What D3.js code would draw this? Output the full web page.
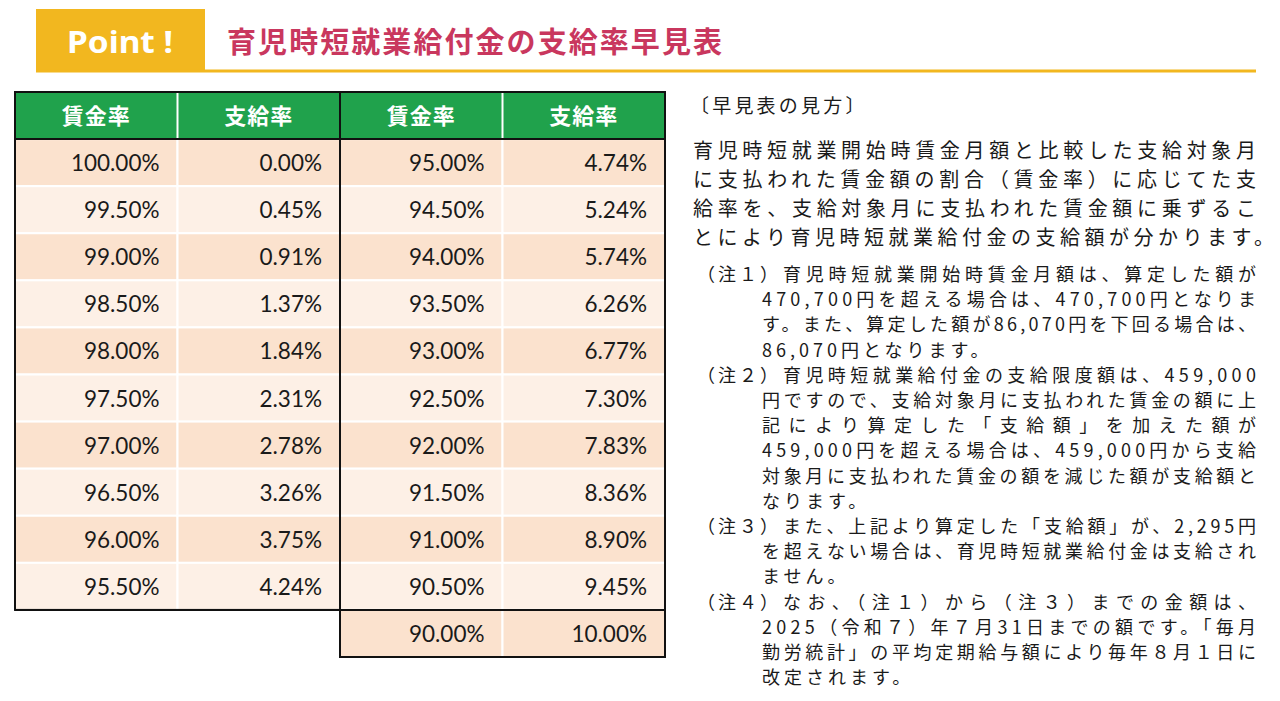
<!DOCTYPE html>
<html lang="ja">
<head>
<meta charset="utf-8">
<script src="https://cdn.jsdelivr.net/npm/d3@7/dist/d3.min.js"></script>
<style>
  html, body { margin: 0; padding: 0; background: #ffffff; }
  svg { display: block; }
</style>
</head>
<body>
<svg id="chart" width="1280" height="701"></svg>
<script>
// ---------- data ----------
const headerLabels = ["賃金率", "支給率", "賃金率", "支給率"];
const leftWageRates = [100.00, 99.50, 99.00, 98.50, 98.00, 97.50, 97.00, 96.50, 96.00, 95.50];
const leftPayRates  = [0.00, 0.45, 0.91, 1.37, 1.84, 2.31, 2.78, 3.26, 3.75, 4.24];
const rightWageRates = [95.00, 94.50, 94.00, 93.50, 93.00, 92.50, 92.00, 91.50, 91.00, 90.50, 90.00];
const rightPayRates  = [4.74, 5.24, 5.74, 6.26, 6.77, 7.30, 7.83, 8.36, 8.90, 9.45, 10.00];

const badgeText = "Point !";
const titleText = "育児時短就業給付金の支給率早見表";
const guideHeading = "〔早見表の見方〕";
const guideLines = [
  "育児時短就業開始時賃金月額と比較した支給対象月",
  "に支払われた賃金額の割合（賃金率）に応じてた支",
  "給率を、支給対象月に支払われた賃金額に乗ずるこ",
  "とにより育児時短就業給付金の支給額が分かります。"
];
// each note: label + lines ; full = justified line
const notes = [
  { label: "（注１）", lines: [
    ["育児時短就業開始時賃金月額は、算定した額が", true],
    ["470,700円を超える場合は、470,700円となりま", true],
    ["す。また、算定した額が86,070円を下回る場合は、", true],
    ["86,070円となります。", false]]},
  { label: "（注２）", lines: [
    ["育児時短就業給付金の支給限度額は、459,000", true],
    ["円ですので、支給対象月に支払われた賃金の額に上", true],
    ["記により算定した「支給額」を加えた額が", true],
    ["459,000円を超える場合は、459,000円から支給", true],
    ["対象月に支払われた賃金の額を減じた額が支給額と", true],
    ["なります。", false]]},
  { label: "（注３）", lines: [
    ["また、上記より算定した「支給額」が、2,295円", true],
    ["を超えない場合は、育児時短就業給付金は支給され", true],
    ["ません。", false]]},
  { label: "（注４）", lines: [
    ["なお、（注１）から（注３）までの金額は、", true],
    ["2025（令和７）年７月31日までの額です。「毎月", true],
    ["勤労統計」の平均定期給与額により毎年８月１日に", true],
    ["改定されます。", false]]}
];

// ---------- styles ----------
const C = {
  yellow: "#F2B71F",
  title: "#C9375E",
  green: "#20A24C",
  peachDark: "#FBE2CE",
  peachLight: "#FDF0E6",
  text: "#1a1a1a",
  border: "#111111"
};
const CJK = "'Noto Sans CJK JP', 'Noto Sans', sans-serif";
const NUM = "Lato, 'Open Sans', sans-serif";

const svg = d3.select("#chart");

// ---------- header bar ----------
svg.append("rect").attr("x", 36).attr("y", 9).attr("width", 169).attr("height", 61).attr("fill", C.yellow);
svg.append("line").attr("x1", 36).attr("x2", 1256).attr("y1", 71).attr("y2", 71)
  .attr("stroke", C.yellow).attr("stroke-width", 3);
svg.append("text").text(badgeText)
  .attr("x", 67).attr("y", 41).attr("dominant-baseline", "central")
  .attr("textLength", 106).attr("lengthAdjust", "spacingAndGlyphs")
  .attr("font-family", "'Noto Sans', sans-serif").attr("font-weight", "bold").attr("font-size", 31)
  .attr("fill", "#ffffff");
svg.append("text").text(titleText)
  .attr("x", 227).attr("y", 40).attr("dominant-baseline", "central")
  .attr("textLength", 495).attr("lengthAdjust", "spacing")
  .attr("font-family", CJK).attr("font-weight", "bold").attr("font-size", 29)
  .attr("fill", C.title);

// ---------- table ----------
const nRows = 12; // header + 11
const y = d3.scaleBand().domain(d3.range(nRows)).range([92, 657]);
const x = d3.scaleBand().domain(d3.range(4)).range([15, 665]);
const fmt = v => d3.format(".2f")(v) + "%";

const cells = [];
leftWageRates.forEach((v, i) => { cells.push({ row: i + 1, col: 0, v }); cells.push({ row: i + 1, col: 1, v: leftPayRates[i] }); });
rightWageRates.forEach((v, i) => { cells.push({ row: i + 1, col: 2, v }); cells.push({ row: i + 1, col: 3, v: rightPayRates[i] }); });

const table = svg.append("g");

// header cells
table.selectAll("rect.head").data(headerLabels).join("rect")
  .attr("class", "head")
  .attr("x", (d, i) => x(i)).attr("y", y(0))
  .attr("width", x.bandwidth()).attr("height", y.bandwidth())
  .attr("fill", C.green);
// header white dividers
table.selectAll("line.hdiv").data([1, 3]).join("line")
  .attr("class", "hdiv")
  .attr("x1", d => x(d)).attr("x2", d => x(d))
  .attr("y1", y(0)).attr("y2", y(0) + y.bandwidth())
  .attr("stroke", "#ffffff").attr("stroke-width", 2);
table.selectAll("text.head").data(headerLabels).join("text")
  .attr("class", "head")
  .attr("x", (d, i) => x(i) + x.bandwidth() / 2).attr("y", y(0) + y.bandwidth() / 2 - 1.5)
  .attr("text-anchor", "middle").attr("dominant-baseline", "central")
  .attr("font-family", CJK).attr("font-weight", "bold").attr("font-size", 22)
  .attr("letter-spacing", 1)
  .attr("fill", "#ffffff").text(d => d);

// body cells
table.selectAll("rect.cell").data(cells).join("rect")
  .attr("class", "cell")
  .attr("x", d => x(d.col)).attr("y", d => y(d.row))
  .attr("width", x.bandwidth()).attr("height", y.bandwidth())
  .attr("fill", d => d.row % 2 === 1 ? C.peachDark : C.peachLight)
  .attr("stroke", "#ffffff").attr("stroke-width", 2);
table.selectAll("text.cell").data(cells).join("text")
  .attr("class", "cell")
  .attr("x", d => x(d.col) + x.bandwidth() - 18)
  .attr("y", d => y(d.row) + y.bandwidth() / 2)
  .attr("text-anchor", "end").attr("dominant-baseline", "central")
  .attr("font-family", NUM).attr("font-size", 22.5)
  .attr("fill", C.text).text(d => fmt(d.v));

// black borders
const bw = 2;
table.append("rect")
  .attr("x", x(0)).attr("y", y(0))
  .attr("width", x(2) - x(0)).attr("height", y(11) - y(0))
  .attr("fill", "none").attr("stroke", C.border).attr("stroke-width", bw);
table.append("rect")
  .attr("x", x(2)).attr("y", y(0))
  .attr("width", x(3) + x.bandwidth() - x(2)).attr("height", y(11) + y.bandwidth() - y(0))
  .attr("fill", "none").attr("stroke", C.border).attr("stroke-width", bw);
table.append("line")
  .attr("x1", x(0)).attr("x2", x(3) + x.bandwidth())
  .attr("y1", y(1)).attr("y2", y(1))
  .attr("stroke", C.border).attr("stroke-width", bw);
table.append("line")
  .attr("x1", x(0)).attr("x2", x(3) + x.bandwidth())
  .attr("y1", y(11)).attr("y2", y(11))
  .attr("stroke", C.border).attr("stroke-width", bw);

// ---------- right-hand text ----------
svg.append("text").text(guideHeading)
  .attr("x", 690).attr("y", 104).attr("dominant-baseline", "central")
  .attr("font-family", CJK).attr("font-size", 19).attr("letter-spacing", 3.2)
  .attr("fill", C.text);

svg.append("g").selectAll("text").data(guideLines).join("text")
  .attr("x", 693).attr("y", (d, i) => 149 + i * 29)
  .attr("dominant-baseline", "central")
  .attr("textLength", (d, i) => i === guideLines.length - 1 ? 581 : 563)
  .attr("lengthAdjust", "spacing")
  .attr("font-family", CJK).attr("font-size", 20)
  .attr("fill", C.text).text(d => d);

const noteG = svg.append("g");
let lineIdx = 0;
const noteTop = 273, noteStep = 25.2;
notes.forEach(n => {
  const ly = noteTop + lineIdx * noteStep;
  noteG.append("text").text(n.label)
    .attr("x", 697).attr("y", ly).attr("dominant-baseline", "central")
    .attr("letter-spacing", 3)
    .attr("font-family", CJK).attr("font-size", 18).attr("fill", C.text);
  n.lines.forEach((ln, j) => {
    const [txt, full] = ln;
    const x0 = j === 0 ? 783 : 762;
    const t = noteG.append("text").text(txt)
      .attr("x", x0).attr("y", noteTop + lineIdx * noteStep)
      .attr("dominant-baseline", "central")
      .attr("font-family", CJK).attr("font-size", 18).attr("fill", C.text);
    if (full) {
      t.attr("textLength", 1256 - x0).attr("lengthAdjust", "spacing");
    } else {
      t.attr("letter-spacing", 4);
    }
    lineIdx++;
  });
});
</script>
</body>
</html>
